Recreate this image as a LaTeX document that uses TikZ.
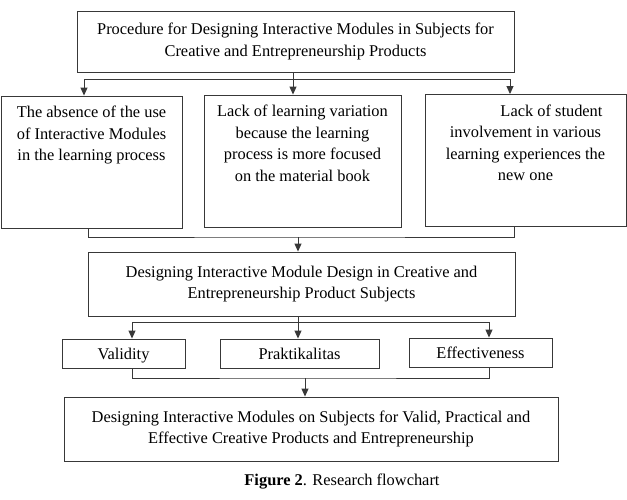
\documentclass[tikz,border=0pt]{standalone}
\usepackage{fontspec}
\setmainfont{Liberation Serif}
\usepackage{xcolor}
\usepackage{tikz}
\usetikzlibrary{arrows.meta, positioning, calc}

\definecolor{linegray}{gray}{0.22}
\newcommand{\flowfont}{\fontsize{16.4pt}{21.5pt}\selectfont}
\newcommand{\toptext}[2]{\parbox[t][112pt][t]{#1}{\centering #2}}

\begin{document}
\begin{tikzpicture}[%
  x=1pt, y=-1pt,
  every node/.style={align=center, font=\flowfont},
  box/.style={draw=linegray, line width=0.9pt, inner sep=2pt},
  probbox/.style={box, inner ysep=10pt, minimum height=132pt},
  critbox/.style={box, minimum height=29pt, text height=12pt, text depth=0pt},
  arr/.style={-{Triangle[length=8pt, width=7pt]}, draw=linegray, line width=0.9pt},
  ln/.style={draw=linegray, line width=0.9pt}
]
\useasboundingbox (0,0) rectangle (627,499);

% Procedure
\node[box, minimum width=437pt, minimum height=61pt] (proc) at (295.5,41.5)
  {Procedure for Designing Interactive Modules in Subjects for\\ Creative and Entrepreneurship Products};

% Problems
\node[probbox, minimum width=181pt] (absence) at (91.5,162)
  {\toptext{176pt}{The absence of the use\\ of Interactive Modules\\ in the learning process}};
\node[probbox, minimum width=197pt] (variation) at (302.5,161)
  {\toptext{190pt}{Lack of learning variation\\ because the learning\\ process is more focused\\ on the material book}};
\node[probbox, minimum width=201pt, minimum height=131pt] (involve) at (525.5,160.5)
  {\toptext{196pt}{\hspace*{52pt}Lack of student\\ involvement in various\\ learning experiences the\\ new one}};

% Design
\node[box, minimum width=427pt, minimum height=64pt] (design) at (301.5,284)
  {Designing Interactive Module Design in Creative and\\ Entrepreneurship Product Subjects};

% Criteria
\node[critbox, minimum width=123pt] (valid) at (123.5,353.5) {Validity};
\node[critbox, minimum width=159pt] (prakt) at (299.5,353.5) {Praktikalitas};
\node[critbox, minimum width=143pt] (effect) at (480.5,352.5) {Effectiveness};

% Result
\node[box, minimum width=494pt, minimum height=64pt] (final) at (311,429)
  {Designing Interactive Modules on Subjects for Valid, Practical and\\ Effective Creative Products and Entrepreneurship};

% Caption
\node (caption) at (342,482) {\textbf{Figure 2}. Research flowchart};

% Branch points
\coordinate (fork1) at (293,79);
\coordinate (merge1) at (298,237);
\coordinate (fork2) at (298,322);
\coordinate (merge2) at (305,378);

% Arrows
\draw[arr] (fork1 |- proc.south) -- (fork1 |- variation.north);
\draw[arr] (fork1) -| ([xshift=-7.5pt]absence.north);
\draw[arr] (fork1) -| ([xshift=-15.5pt]involve.north);

\draw[ln] ([xshift=-3.5pt]absence.south) |- (merge1) -| ([xshift=-11.5pt]involve.south);
\draw[arr] (merge1) -- (merge1 |- design.north);

\draw[arr] (fork2 |- design.south) -- (fork2 |- prakt.north);
\draw[arr] (fork2) -| ([xshift=8.5pt]valid.north);
\draw[arr] (fork2) -| ([xshift=8.5pt]effect.north);

\draw[ln] ([xshift=8.5pt]valid.south) |- (merge2) -| ([xshift=8.5pt]effect.south);
\draw[arr] (merge2) -- (merge2 |- final.north);
\end{tikzpicture}
\end{document}
